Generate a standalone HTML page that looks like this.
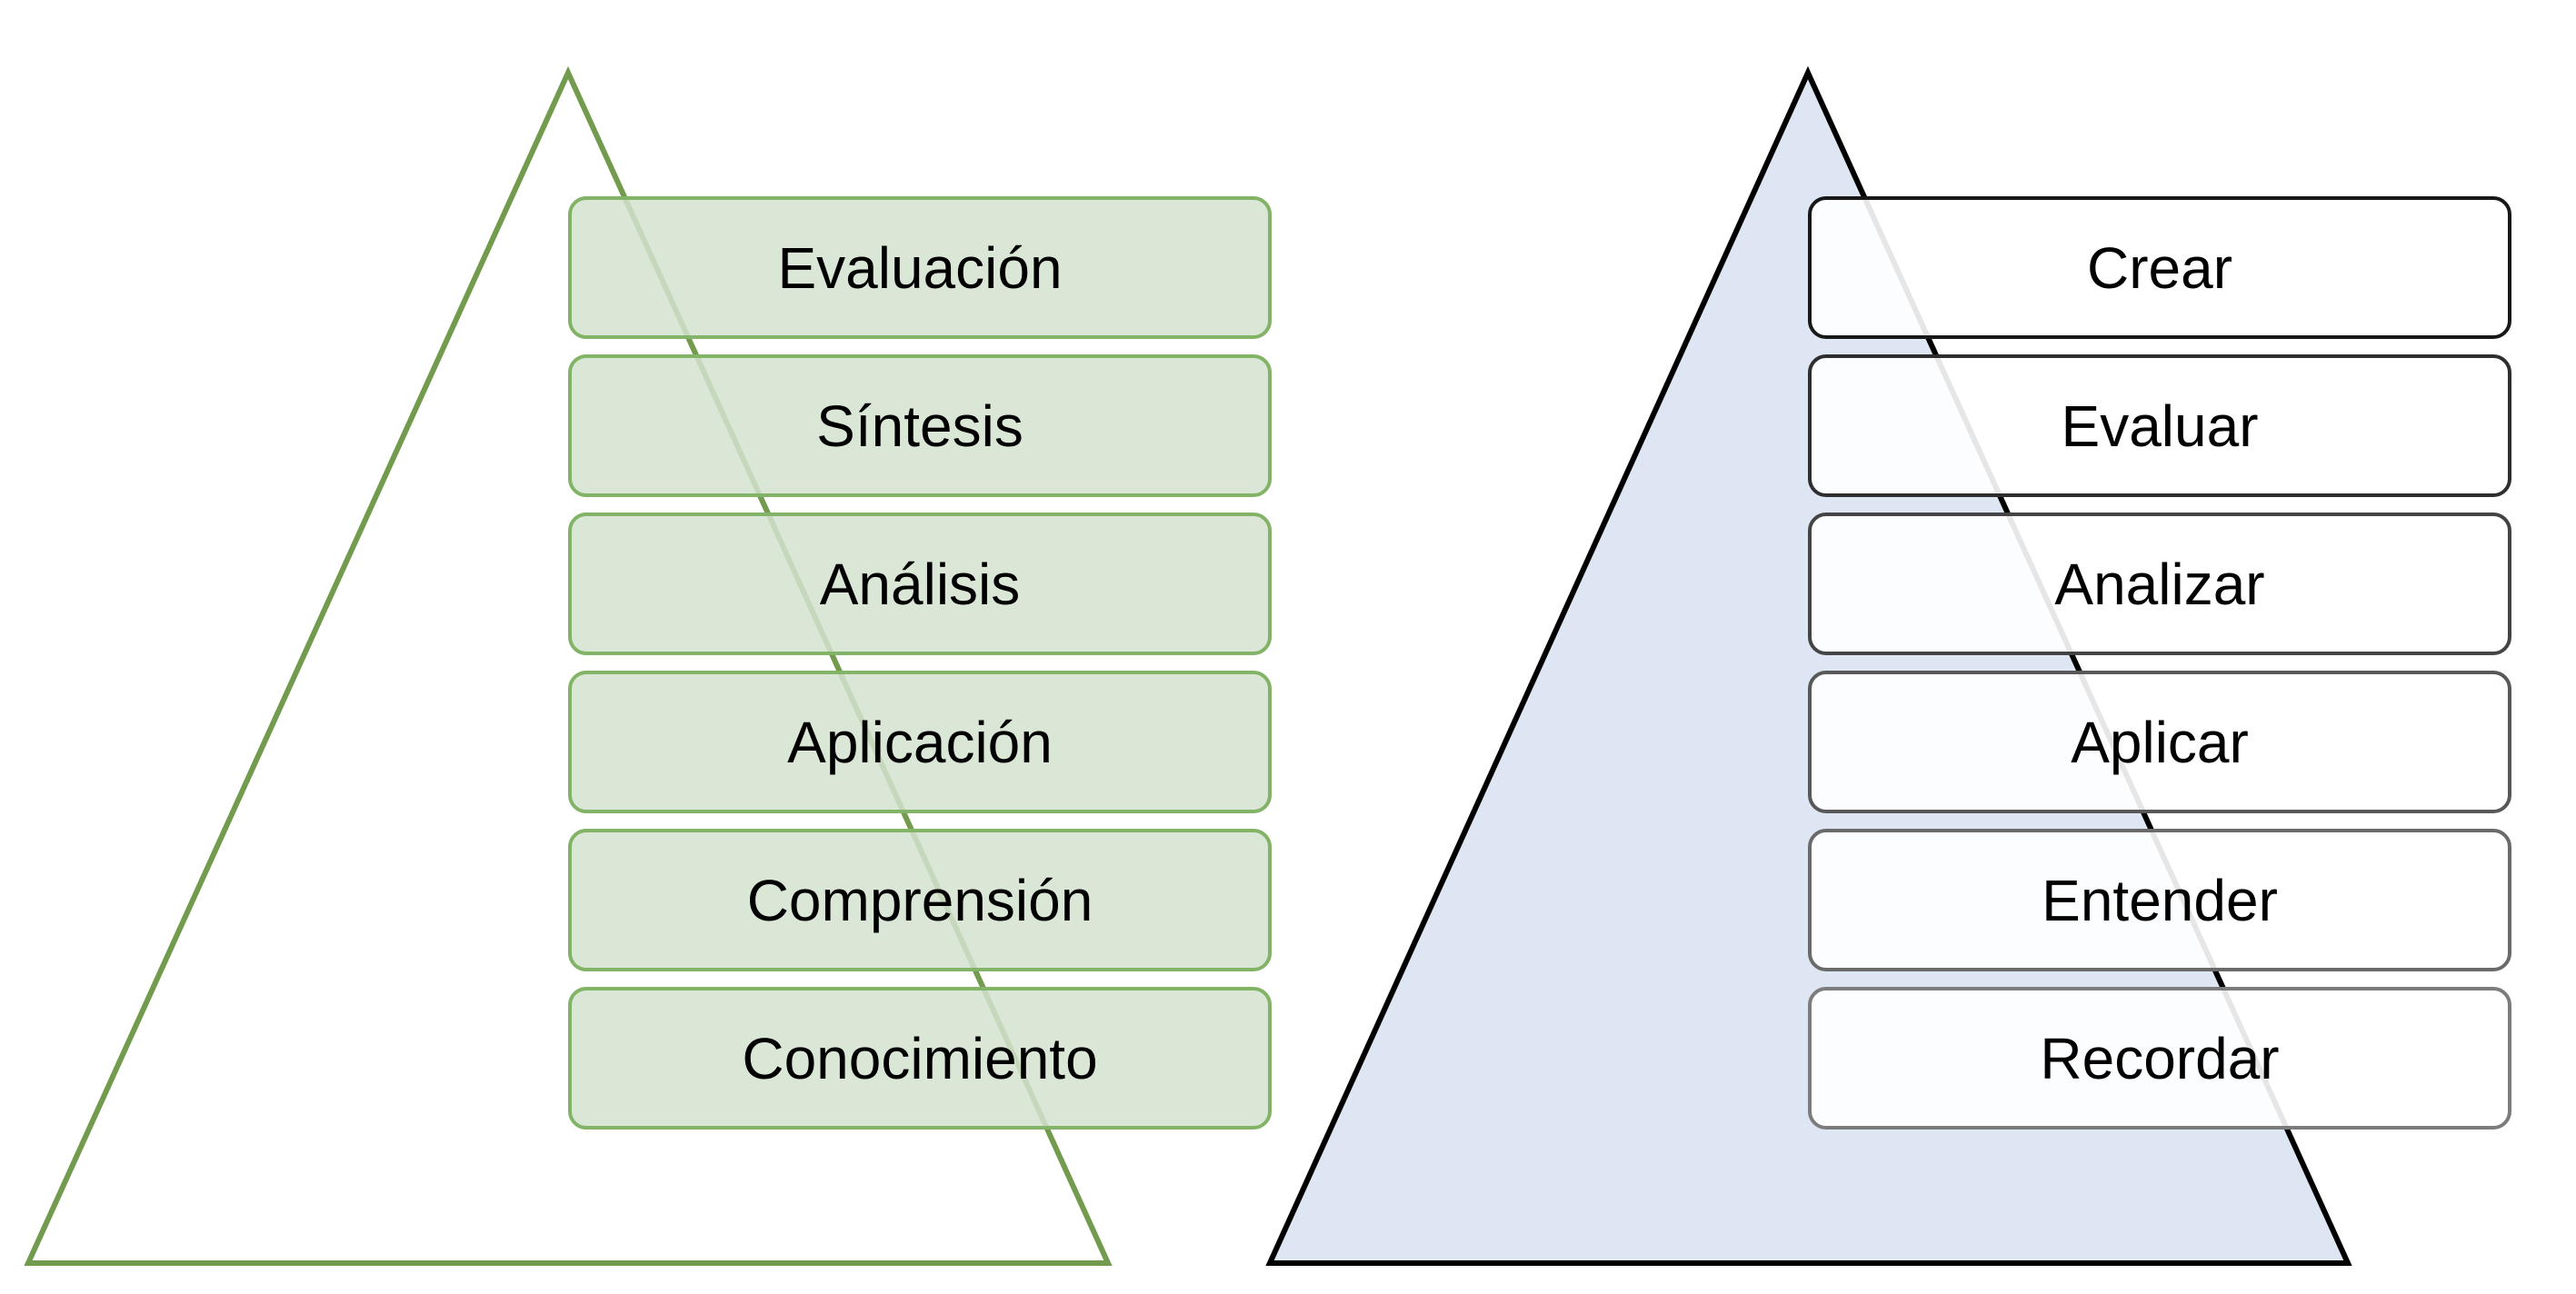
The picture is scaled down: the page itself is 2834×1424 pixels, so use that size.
<!DOCTYPE html>
<html><head><meta charset="utf-8"><style>
html,body{margin:0;padding:0;background:#fff;}
svg{display:block;}
text{font-family:"Liberation Sans",Arial,sans-serif;font-size:64px;fill:#000;text-anchor:middle;dominant-baseline:central;}
</style></head><body>
<svg width="2834" height="1424" viewBox="0 0 2834 1424" xmlns="http://www.w3.org/2000/svg">
<polygon points="625,80 31,1390 1219,1390" fill="#fff" stroke="#739b4e" stroke-width="6" stroke-linejoin="miter"/>
<polygon points="1989,80 1397,1390 2583,1390" fill="#dfe6f3" stroke="#000" stroke-width="6" stroke-linejoin="miter"/>
<g fill="#d5e3cf" fill-opacity="0.85" stroke="#82b366" stroke-width="4">
<rect x="627" y="218" width="770" height="153" rx="18"/>
<rect x="627" y="392" width="770" height="153" rx="18"/>
<rect x="627" y="566" width="770" height="153" rx="18"/>
<rect x="627" y="740" width="770" height="153" rx="18"/>
<rect x="627" y="914" width="770" height="153" rx="18"/>
<rect x="627" y="1088" width="770" height="153" rx="18"/>
</g>
<text x="1012" y="295">Evaluación</text>
<text x="1012" y="469">Síntesis</text>
<text x="1012" y="643">Análisis</text>
<text x="1012" y="817">Aplicación</text>
<text x="1012" y="991">Comprensión</text>
<text x="1012" y="1165">Conocimiento</text>
<g fill="#fff" fill-opacity="0.9" stroke-width="4">
<rect x="1991" y="218" width="770" height="153" rx="18" stroke="#181818"/>
<rect x="1991" y="392" width="770" height="153" rx="18" stroke="#2e2e2e"/>
<rect x="1991" y="566" width="770" height="153" rx="18" stroke="#444"/>
<rect x="1991" y="740" width="770" height="153" rx="18" stroke="#585858"/>
<rect x="1991" y="914" width="770" height="153" rx="18" stroke="#6a6a6a"/>
<rect x="1991" y="1088" width="770" height="153" rx="18" stroke="#7c7c7c"/>
</g>
<text x="2376" y="295">Crear</text>
<text x="2376" y="469">Evaluar</text>
<text x="2376" y="643">Analizar</text>
<text x="2376" y="817">Aplicar</text>
<text x="2376" y="991">Entender</text>
<text x="2376" y="1165">Recordar</text>
</svg>
</body></html>
